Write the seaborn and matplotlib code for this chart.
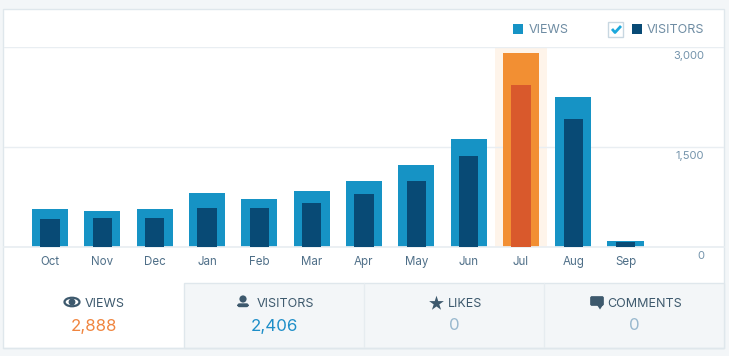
import matplotlib
matplotlib.use("Agg")
import matplotlib.pyplot as plt
import seaborn as sns
import pandas as pd
from matplotlib.patches import Rectangle, Ellipse, Circle, FancyBboxPatch, Polygon

months = ['Oct', 'Nov', 'Dec', 'Jan', 'Feb', 'Mar', 'Apr', 'May', 'Jun', 'Jul', 'Aug', 'Sep']
views = [570, 540, 570, 810, 720, 840, 990, 1230, 1620, 2910, 2250, 90]
visitors = [420, 435, 435, 585, 585, 660, 795, 990, 1365, 2430, 1920, 75]
y_ticks = [0, 1500, 3000]
y_labels = ['0', '1,500', '3,000']
stat_names = ['VIEWS', 'VISITORS', 'LIKES', 'COMMENTS']
stat_values = ['2,888', '2,406', '0', '0']

BLUE, NAVY = '#1693C5', '#084A75'
ORANGE, RED = '#F28F33', '#D9592C'
LINE = '#E9EEF2'
BORDER = '#DFE7EC'
PAGE = '#F3F6F8'
INK = '#3D596D'

sns.set_theme(style='white')
plt.rcParams['font.family'] = ['Inter', 'DejaVu Sans']

W, H = 729, 356
fig = plt.figure(figsize=(W / 100, H / 100), dpi=100, facecolor=PAGE)

# pixel-space layer for the card, legend and stat row
bg = fig.add_axes([0, 0, 1, 1])
bg.set_xlim(0, W)
bg.set_ylim(H, 0)
bg.axis('off')
bg.add_patch(Rectangle((3.5, 9), 721, 339, fc='white', ec=BORDER, lw=1))
bg.add_patch(Rectangle((184, 283), 540.5, 65, fc=PAGE, ec=BORDER, lw=1))
bg.plot([3.5, 724.5], [347.8, 347.8], color=BORDER, lw=1)
for x in [364, 544]:
    bg.plot([x, x], [283, 347], color='#E6ECF0', lw=1)

# chart
ax = fig.add_axes([4 / W, (H - 247) / H, 720 / W, 200 / H], zorder=2)
ax.patch.set_alpha(0)
df = pd.DataFrame({'month': months, 'views': views, 'visitors': visitors})
views_palette = {m: (ORANGE if m == 'Jul' else BLUE) for m in months}
visitors_palette = {m: (RED if m == 'Jul' else NAVY) for m in months}
jul = months.index('Jul')
ax.axvspan(jul - 0.5, jul + 0.5, color='#FEF4EA', lw=0, zorder=0)
sns.barplot(data=df, x='month', y='views', hue='month', palette=views_palette, width=0.69,
            saturation=1, legend=False, dodge=False, linewidth=0, edgecolor='none', ax=ax, zorder=2)
sns.barplot(data=df, x='month', y='visitors', hue='month', palette=visitors_palette, width=0.37,
            saturation=1, legend=False, dodge=False, linewidth=0, edgecolor='none', ax=ax, zorder=3)
ax.set_xlim((4 - 50) / 52.32, (724 - 50) / 52.32)
ax.set_ylim(0, 3000)
ax.set_xlabel('')
ax.set_ylabel('')
ax.set_yticks(y_ticks)
ax.set_yticklabels([])
ax.tick_params(axis='y', length=0)
ax.tick_params(axis='x', length=3.6, width=1, color=LINE, labelsize=8.3, labelcolor='#4F6F88', pad=3.2)
ax.grid(axis='y', color=LINE, lw=1, zorder=1)
ax.set_axisbelow(True)
sns.despine(ax=ax, left=True, right=True, top=True)
ax.spines['bottom'].set_color(LINE)
for val, lab in zip(y_ticks, y_labels):
    ax.annotate(lab, (1, val), xycoords=ax.get_yaxis_transform(), xytext=(-14.4, -6.3),
                textcoords='offset points', ha='right', va='center', fontsize=8, color='#7393AB')

# legend
bg.add_patch(Rectangle((513, 24), 10, 10, fc=BLUE, lw=0))
bg.text(548.5, 30.3, 'VIEWS', fontsize=9, color='#6E8CA3', va='center', ha='center')
bg.add_patch(Rectangle((608.5, 21.5), 15, 15, fc='white', ec='#C8D7E1', lw=1))
bg.plot([612, 615, 621], [29, 32.5, 26], color='#1BA8DC', lw=2, solid_capstyle='butt')
bg.add_patch(Rectangle((632, 24), 10, 10, fc=NAVY, lw=0))
bg.text(675.5, 30.3, 'VISITORS', fontsize=9, color='#6E8CA3', va='center', ha='center')

# stat row
label_x = [104.5, 285, 465.5, 645]
value_x = [94, 274, 454, 634]
value_colors = ['#F0853F', '#1D8EC8', '#98B8CE', '#98B8CE']
for name, lx, val, vx, c in zip(stat_names, label_x, stat_values, value_x, value_colors):
    bg.text(lx, 303.8, name, fontsize=9, color=INK, va='center', ha='center')
    bg.text(vx, 326, val, fontsize=12.2, color=c, ha='center', va='center')

# eye
bg.add_patch(Ellipse((72, 302), 15, 8.5, fc='none', ec=INK, lw=1.6))
bg.add_patch(Circle((72, 302), 3.4, fc=INK, lw=0))
# person
bg.add_patch(Circle((243, 299), 3.6, fc=INK, lw=0))
bg.add_patch(FancyBboxPatch((238, 304), 10, 2.5, boxstyle='round,pad=0,rounding_size=1.5',
                            fc=INK, ec=INK, lw=1))
# star
bg.scatter([436], [303], marker='*', s=125, color=INK, lw=0)
# speech bubble
bg.add_patch(FancyBboxPatch((591, 297), 12, 8, boxstyle='round,pad=0.5,rounding_size=1.5',
                            fc=INK, ec=INK, lw=0.5))
bg.add_patch(Polygon([[597, 305], [603, 305], [600, 309.5]], fc=INK, lw=0))

fig.savefig('out.png', dpi=100, facecolor=fig.get_facecolor())
